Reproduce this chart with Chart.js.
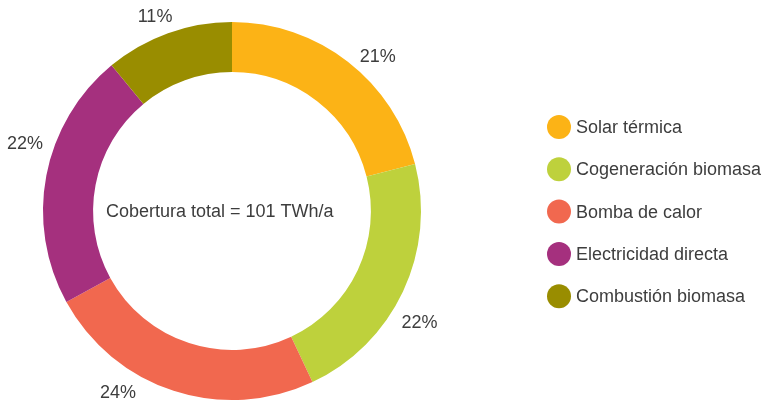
<!DOCTYPE html>
<html>
<head>
<meta charset="utf-8">
<script src="https://cdn.jsdelivr.net/npm/chart.js@4/dist/chart.umd.min.js"></script>
<style>
  html, body { margin: 0; padding: 0; background: #ffffff; }
  #wrap { width: 763px; height: 403px; position: relative; }
</style>
</head>
<body>
<div id="wrap"><canvas id="c" width="763" height="403"></canvas></div>
<script>
const categories = ["Solar térmica", "Cogeneración biomasa", "Bomba de calor", "Electricidad directa", "Combustión biomasa"];
const shares = [21, 22, 24, 22, 11];
const centerLabel = "Cobertura total = 101 TWh/a";

const colors = ["#FCB316", "#BED13C", "#F1684F", "#A5307E", "#998D00"];
const labelAngleShift = [5.4, 5.5, 14.2, 7.4, -1.7]; // degrees, label placement tweak
const labelGap = [24, 29, 25, 29, 21];               // px beyond outer radius
const FONT = '"Liberation Sans", Arial, sans-serif';
const TEXT = "#3d3d3d";

const overlay = {
  id: 'overlay',
  afterDraw(chart) {
    const ctx = chart.ctx;
    const meta = chart.getDatasetMeta(0);
    ctx.save();
    ctx.fillStyle = TEXT;
    ctx.font = '18px ' + FONT;
    ctx.textAlign = 'center';
    ctx.textBaseline = 'middle';
    meta.data.forEach((arc, i) => {
      const p = arc.getProps(['x', 'y', 'startAngle', 'endAngle', 'outerRadius']);
      const a = (p.startAngle + p.endAngle) / 2 + labelAngleShift[i] * Math.PI / 180;
      const r = p.outerRadius + labelGap[i];
      ctx.fillText(shares[i] + '%', p.x + r * Math.cos(a), p.y + r * Math.sin(a) + 1);
    });
    // center text
    const a0 = meta.data[0];
    ctx.textAlign = 'left';
    ctx.fillText(centerLabel, a0.x - 126, a0.y + 1);
    // legend
    const lx = 559, ly0 = 127, gap = 42.3;
    categories.forEach((name, i) => {
      const y = ly0 + i * gap;
      ctx.beginPath();
      ctx.arc(lx, y, 12, 0, Math.PI * 2);
      ctx.fillStyle = colors[i];
      ctx.fill();
      ctx.fillStyle = TEXT;
      ctx.textAlign = 'left';
      ctx.fillText(name, lx + 17, y + 1);
    });
    ctx.restore();
  }
};

new Chart(document.getElementById('c'), {
  type: 'doughnut',
  data: {
    labels: categories,
    datasets: [{
      data: shares,
      backgroundColor: colors,
      borderWidth: 0
    }]
  },
  options: {
    responsive: false,
    animation: false,
    cutout: '73.5%',
    layout: { padding: { left: 43, top: 22, right: 342, bottom: 3 } },
    plugins: {
      legend: { display: false },
      tooltip: { enabled: false }
    }
  },
  plugins: [overlay]
});
</script>
</body>
</html>
